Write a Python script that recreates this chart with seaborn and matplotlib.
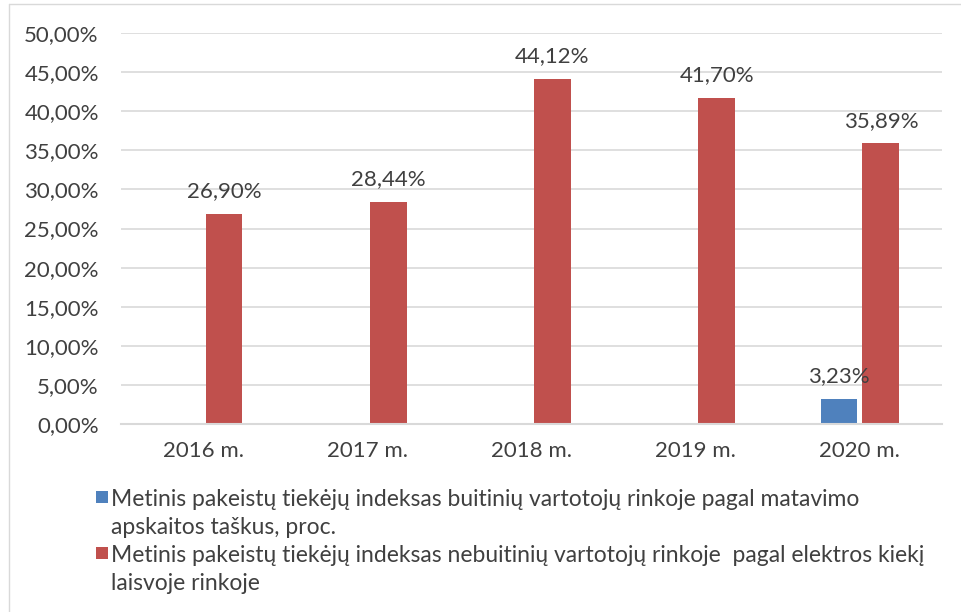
import pandas as pd
import numpy as np
import matplotlib.pyplot as plt
import seaborn as sns
from matplotlib.patches import Rectangle
from matplotlib.lines import Line2D

# Chart data
years = ["2016 m.", "2017 m.", "2018 m.", "2019 m.", "2020 m."]
household = [np.nan, np.nan, np.nan, np.nan, 3.23]
non_household = [26.90, 28.44, 44.12, 41.70, 35.89]
series_names = [
    "Metinis pakeistų tiekėjų indeksas buitinių vartotojų rinkoje pagal matavimo\napskaitos taškus, proc.",
    "Metinis pakeistų tiekėjų indeksas nebuitinių vartotojų rinkoje  pagal elektros kiekį\nlaisvoje rinkoje",
]
colors = ["#4f81bd", "#c0504d"]

df = pd.DataFrame({
    "year": years * 2,
    "value": household + non_household,
    "series": [series_names[0]] * 5 + [series_names[1]] * 5,
})

sns.set_theme(style="white")
plt.rcParams["font.family"] = ["Lato", "DejaVu Sans"]
text_color = "#404040"
fs = 16

fig = plt.figure(figsize=(9.61, 6.12), dpi=100)
ax = fig.add_axes([121 / 961, 1 - 424 / 612, 821 / 961, 391 / 612])

sns.barplot(data=df, x="year", y="value", hue="series", palette=colors,
            width=0.51, gap=0.12, ax=ax, legend=False, saturation=1, linewidth=0)

# value labels
for cont in ax.containers:
    labels = [("" if np.isnan(v) else f"{v:.2f}%".replace(".", ",")) for v in cont.datavalues]
    ax.bar_label(cont, labels=labels, padding=9, fontsize=fs, color=text_color)

ax.set_ylim(0, 50)
ax.set_yticks(np.arange(0, 51, 5))
ax.set_yticklabels([f"{t:.2f}%".replace(".", ",") for t in np.arange(0, 51, 5)])
ax.yaxis.grid(True, color="#d9d9d9", linewidth=1.2)
ax.set_axisbelow(True)
for s in ["top", "right", "left"]:
    ax.spines[s].set_visible(False)
ax.spines["bottom"].set_color("#d9d9d9")
ax.spines["bottom"].set_linewidth(1.5)
ax.tick_params(axis="both", labelsize=fs, colors=text_color, length=0)
ax.tick_params(axis="y", pad=16)
ax.tick_params(axis="x", pad=12)
ax.set_xlabel("")
ax.set_ylabel("")

# legend below, drawn by hand so the marker sits on the first line
W, H = 961, 612
for i, (name, c) in enumerate(zip(series_names, colors)):
    y0 = 497 + i * 56
    fig.add_artist(Rectangle((96 / W, 1 - (y0 + 6) / H), 12 / W, 12 / H,
                             transform=fig.transFigure, facecolor=c, edgecolor="none"))
    for j, line in enumerate(name.split("\n")):
        fig.text(111 / W, 1 - (y0 + j * 28) / H, line, fontsize=16.5, color=text_color,
                 va="center_baseline", ha="left")

# chart frame lines
fig.add_artist(Line2D([9 / W, 1], [1 - 4 / H, 1 - 4 / H], color="#d9d9d9", lw=1))
fig.add_artist(Line2D([9 / W, 9 / W], [0, 1 - 4 / H], color="#d9d9d9", lw=1))

fig.savefig("out.png", dpi=100)
